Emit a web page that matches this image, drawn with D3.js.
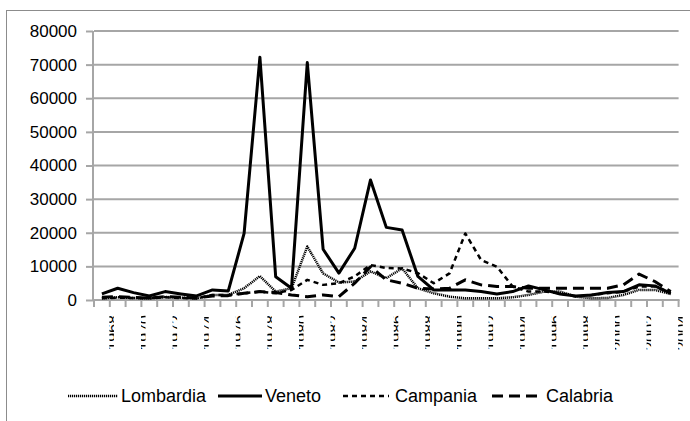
<!DOCTYPE html>
<html><head><meta charset="utf-8">
<script src="https://cdn.jsdelivr.net/npm/d3@7"></script>
<style>body{margin:0;background:#fff}svg{display:block}text{font-family:"Liberation Sans",Arial,sans-serif;fill:#000}</style>
</head><body><svg id="c" width="690" height="421"></svg>
<script>
const years = d3.range(1968, 2005).map(String);
const yTicks = [0,10000,20000,30000,40000,50000,60000,70000,80000];
const lombardia = [500,800,600,500,900,700,500,1500,1500,3500,7100,2500,3500,15900,7900,5200,5500,8500,6500,9400,3500,2000,1000,500,500,500,800,1500,2500,2500,1000,500,600,1500,3000,3000,1800];
const veneto = [1800,3500,2200,1200,2500,1800,1200,3000,2700,19800,72200,6900,3500,70600,15100,8000,15400,35700,21600,20800,7000,3000,3000,3000,2500,1800,2500,4200,3000,1800,1200,1500,2200,2500,4500,4200,2000];
const campania = [500,700,600,500,800,600,500,1500,1500,2000,2500,2000,3000,6000,4500,5000,7000,10400,9500,9400,8000,5000,7900,19800,11900,9900,4000,2500,2500,2000,1000,1500,2000,2500,4000,4000,2200];
const calabria = [800,1000,800,600,1000,800,600,1200,1300,2000,2500,2200,1500,1000,1500,1000,5000,9900,6000,5000,3500,3300,3500,6000,4500,4000,4000,3500,3500,3500,3500,3500,3500,4500,7700,5500,2500];
const seriesNames = ["Lombardia","Veneto","Campania","Calabria"];

const svg = d3.select("#c");
const x = d3.scaleBand().domain(d3.range(years.length)).range([94, 678.6]).paddingInner(0).paddingOuter(0);
const y = d3.scaleLinear().domain([0, 80000]).range([300, 31]);
const cx = i => x(i) + x.bandwidth()/2;

// outer border
svg.append("rect").attr("x",6.5).attr("y",10.5).attr("width",720).attr("height",430)
  .attr("fill","none").attr("stroke","#8c8c8c").attr("stroke-width",1);

// gridlines
svg.append("g").selectAll("line").data(yTicks.filter(d=>d>0)).join("line")
  .attr("x1",94).attr("x2",678.6).attr("y1",d=>y(d)).attr("y2",d=>y(d))
  .attr("stroke","#a6a6a6").attr("stroke-width",2);

// y axis
const ya = svg.append("g").attr("transform","translate(93,0)")
  .call(d3.axisLeft(y).tickValues(yTicks).tickSize(7).tickPadding(9).tickFormat(d3.format("d")));
ya.select(".domain").remove();
ya.selectAll(".tick line").attr("stroke","#a6a6a6").attr("stroke-width",2);
ya.selectAll(".tick text").attr("font-size",17).attr("font-family","Liberation Sans, Arial, sans-serif").attr("fill","#000");
svg.append("line").attr("x1",93).attr("x2",93).attr("y1",31).attr("y2",301).attr("stroke","#a6a6a6").attr("stroke-width",2);

// x axis
svg.append("line").attr("x1",92).attr("x2",679.6).attr("y1",300).attr("y2",300).attr("stroke","#a6a6a6").attr("stroke-width",2);
svg.append("g").selectAll("line").data(d3.range(years.length+1)).join("line")
  .attr("x1",i=>94+i*x.bandwidth()).attr("x2",i=>94+i*x.bandwidth())
  .attr("y1",300).attr("y2",307).attr("stroke","#a6a6a6").attr("stroke-width",2);

// x labels (clipped rotated)
const defs = svg.append("defs");
const labIdx = d3.range(0, years.length, 2);
labIdx.forEach(i=>{
  defs.append("clipPath").attr("id","cl"+i).append("rect")
    .attr("x",cx(i)+7.5).attr("y",312).attr("width",4.5).attr("height",42);
});
const lg = svg.append("g").selectAll("g").data(labIdx).join("g")
  .attr("clip-path",i=>"url(#cl"+i+")");
lg.append("text")
  .attr("transform",i=>`translate(${cx(i)+17},315) rotate(-90)`)
  .attr("text-anchor","end").attr("font-size",16)
  .text(i=>years[i]);

// lines
const styles = [
  {data:lombardia, w:2.5, dash:"1.2,0.8"},
  {data:veneto, w:3, dash:null},
  {data:campania, w:2.5, dash:"5,4"},
  {data:calabria, w:3, dash:"11,6"}
];
const line = d3.line().x((d,i)=>cx(i)).y(d=>y(d));
styles.forEach(s=>{
  svg.append("path").datum(s.data).attr("d",line).attr("fill","none")
    .attr("stroke","#000").attr("stroke-width",s.w).attr("stroke-linejoin","round")
    .attr("stroke-dasharray",s.dash);
});

// legend
const leg = [
  {x1:68,x2:118,tx:121},
  {x1:218,x2:262,tx:265},
  {x1:343,x2:389,tx:395},
  {x1:492,x2:540,tx:546}
];
leg.forEach((l,k)=>{
  svg.append("line").attr("x1",l.x1).attr("x2",l.x2).attr("y1",396).attr("y2",396)
    .attr("stroke","#000").attr("stroke-width",styles[k].w).attr("stroke-dasharray",styles[k].dash);
  svg.append("text").attr("x",l.tx).attr("y",402).attr("font-size",18).text(seriesNames[k]);
});
</script></body></html>
